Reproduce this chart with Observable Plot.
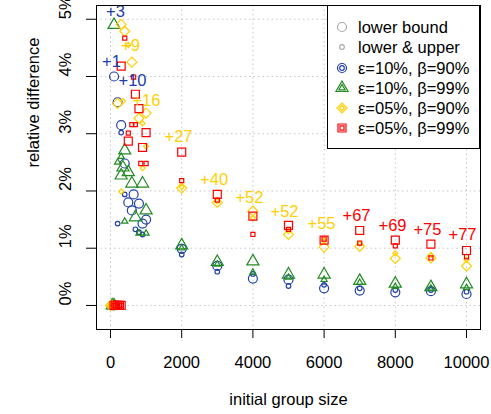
<!DOCTYPE html>
<html><head><meta charset="utf-8">
<script src="https://cdn.jsdelivr.net/npm/d3@7"></script>
<script src="https://cdn.jsdelivr.net/npm/@observablehq/plot@0.6"></script>
<style>
body{margin:0;background:#fff;font-family:"Liberation Sans",Arial,sans-serif;}
#wrap{position:relative;width:491px;height:414px;}
#legend{position:absolute;left:327px;top:5px;width:153px;height:144px;border:1px solid #000;background:#fff;box-sizing:border-box;font-size:16.5px;color:#000;}
.row{position:absolute;left:0;height:20px;display:flex;align-items:center;white-space:nowrap;}
.row svg{margin-left:6px;margin-right:8px;}
</style></head><body><div id="wrap"></div>
<script>
// ---- data ----
const xTicks = [0, 2000, 4000, 6000, 8000, 10000];
const yTicks = [0, 1, 2, 3, 4, 5];
const bigSizes = [2000, 3000, 4000, 5000, 6000, 7000, 8000, 9000, 10000];

// series: blue = e10 b90, green = e10 b99, gold = e05 b90, red = e05 b99
// "lower bound" (large symbols)
const blueLowerBig  = [0.99, 0.69, 0.47, 0.45, 0.30, 0.26, 0.23, 0.25, 0.20];
const greenLowerBig = [1.05, 0.76, 0.77, 0.54, 0.54, 0.43, 0.38, 0.32, 0.37];
const goldLowerBig  = [2.05, 1.80, 1.65, 1.24, 1.02, 1.03, 0.82, 0.83, 0.69];
const redLowerBig   = [2.68, 1.94, 1.56, 1.40, 1.14, 1.31, 1.14, 1.07, 0.96];
// "lower & upper" (small symbols)
const blueBothBig   = [0.89, 0.59, 0.55, 0.34, 0.36, 0.30, 0.27, 0.27, 0.24];
const greenBothBig  = [1.00, 0.72, 0.58, 0.49, 0.45, 0.40, 0.33, 0.30, 0.31];
const goldBothBig   = [2.07, 1.82, 1.53, 1.30, 1.13, 1.08, 0.91, 0.88, 0.80];
const redBothBig    = [2.18, 1.84, 1.24, 1.33, 1.16, 1.09, 1.04, 0.83, 0.85];

// small group sizes: [size, relative difference %]
const blueLowerSmall  = [[100,0],[100,4.00],[200,3.55],[300,3.15],[400,2.48],[500,1.80],[600,1.66],[650,1.94],[800,1.78],[900,1.43],[1000,1.50]];
const blueBothSmall   = [[100,0],[300,3.02],[400,1.94],[200,1.43],[700,1.33],[800,1.28],[900,1.24]];
const greenLowerSmall = [[50,0],[100,0],[100,4.90],[400,2.71],[350,2.41],[500,2.33],[300,2.27],[600,2.13],[900,2.13],[1000,1.66],[700,1.54]];
const greenBothSmall  = [[50,0],[100,0],[200,2.50],[300,2.60],[400,1.47],[800,1.26],[1000,1.26]];
const goldLowerSmall  = [[0,0],[50,0],[300,4.91],[400,4.79],[600,4.25],[200,3.53],[1000,3.36],[800,3.27]];
const goldBothSmall   = [[0,0],[50,0],[500,4.55],[350,3.57],[900,3.18],[1000,2.78],[900,2.40],[300,1.99]];
const redLowerSmall   = [[100,0],[150,0],[200,0],[250,0],[300,0],[300,4.18],[700,3.69],[800,3.44],[1000,3.02],[500,2.87],[900,2.76]];
const redBothSmall    = [[100,0],[150,0],[200,0],[250,0],[300,0],[400,4.67],[650,3.99],[600,3.16],[700,3.16],[500,3.01],[850,2.48],[1000,2.48]];

// annotations
const noteText  = ["+3","+1","+10","+9","+16","+27","+40","+52","+52","+55","+67","+69","+75","+77"];
const noteX     = [140, 28, 618, 562, 1011, 1910, 2910, 3904, 4888, 5927, 6910, 7921, 8904, 9888];
const noteY     = [5.14, 4.25, 3.93, 4.53, 3.57, 2.95, 2.19, 1.89, 1.64, 1.42, 1.56, 1.40, 1.33, 1.24];
const noteColor = ["blue","blue","blue","gold","gold","gold","gold","gold","gold","gold","red","red","red","red"];

const colors = {blue:"#2140a8", green:"#228b22", gold:"#ffd000", red:"#ff0000"};
const symbols = {blue:"circle", green:"triangle", gold:"diamond2", red:"square"};
const legendLabels = ["ε=10%, β=90%","ε=10%, β=99%","ε=05%, β=90%","ε=05%, β=99%"];

// ---- build rows ----
function rows(series, big, small, kind) {
  return bigSizes.map((s, i) => ({x: s, y: big[i], series, kind}))
    .concat(small.map(([s, v]) => ({x: s, y: v, series, kind})));
}
const data = [
  ...rows("blue", blueLowerBig, blueLowerSmall, "lower"),
  ...rows("blue", blueBothBig, blueBothSmall, "both"),
  ...rows("green", greenLowerBig, greenLowerSmall, "lower"),
  ...rows("green", greenBothBig, greenBothSmall, "both"),
  ...rows("gold", goldLowerBig, goldLowerSmall, "lower"),
  ...rows("gold", goldBothBig, goldBothSmall, "both"),
  ...rows("red", redLowerBig, redLowerSmall, "lower"),
  ...rows("red", redBothBig, redBothSmall, "both")
];
const notes = noteText.map((t, i) => ({text: t, x: noteX[i], y: noteY[i], c: colors[noteColor[i]]}));

const R_BIG = 4.5, R_SMALL = 2.3;
const dotMarks = [];
for (const s of ["blue","green","gold","red"]) {
  for (const k of ["lower","both"]) {
    dotMarks.push(Plot.dot(data.filter(d => d.series === s && d.kind === k), {
      x: "x", y: "y", symbol: () => symbols[s], r: k === "lower" ? R_BIG : R_SMALL,
      stroke: colors[s], fill: "none", strokeWidth: 1.2
    }));
  }
}

const chart = Plot.plot({
  width: 491, height: 414,
  marginLeft: 96, marginRight: 11, marginTop: 5, marginBottom: 85,
  style: {fontFamily: "'Liberation Sans', Arial, sans-serif", fontSize: "16.5px", background: "#fff", color: "#000", overflow: "visible"},
  x: {domain: [-393, 10393]},
  y: {domain: [-0.42, 5.24]},
  symbol: {type: "identity"},
  marks: [
    Plot.gridX(xTicks, {stroke: "#c8c8c8", strokeOpacity: 1, strokeDasharray: "1.5,3"}),
    Plot.gridY(yTicks, {stroke: "#c8c8c8", strokeOpacity: 1, strokeDasharray: "1.5,3"}),
    Plot.axisX(xTicks, {tickSize: 9, tickPadding: 18, label: null, fontSize: 16.5, tickFormat: d => String(d)}),
    Plot.axisY(yTicks, {tickSize: 10, tickFormat: () => "", label: null}),
    Plot.text(yTicks, {y: d => d, frameAnchor: "left", dx: -31, rotate: -90, text: d => d + "%", fontSize: 16.5}),
    Plot.text(["relative difference"], {frameAnchor: "left", dx: -63, rotate: -90, text: d => d, fontSize: 16.5}),
    Plot.text(["initial group size"], {frameAnchor: "bottom", dy: 75, text: d => d, fontSize: 16.5}),
    ...dotMarks,
    Plot.text(notes, {x: "x", y: "y", text: "text", fill: "c", fontSize: 16.5}),
    Plot.frame({stroke: "#000", strokeWidth: 1})
  ]
});
const wrap = document.getElementById("wrap");
wrap.appendChild(chart);

// ---- legend (overlay in the plot's top-right corner) ----
const leg = document.createElement("div");
leg.id = "legend";
function symPath(type, r) {
  const map = {circle: d3.symbolCircle, triangle: d3.symbolTriangle, diamond2: d3.symbolDiamond2, square: d3.symbolSquare};
  return d3.symbol(map[type], Math.PI * r * r)();
}
const legendItems = [
  {label: "lower bound", color: "#aaaaaa", sym: "circle", big: true, small: false},
  {label: "lower & upper", color: "#aaaaaa", sym: "circle", big: false, small: true},
  ...["blue","green","gold","red"].map((s, i) => ({label: legendLabels[i], color: colors[s], sym: symbols[s], big: true, small: true}))
];
const centers = [27, 47, 68, 88, 108, 128];
legendItems.forEach((it, i) => {
  const row = document.createElement("div");
  row.className = "row";
  row.style.top = (centers[i] - 6 - 10) + "px";
  let paths = "";
  if (it.big) paths += `<path d="${symPath(it.sym, R_BIG)}" fill="none" stroke="${it.color}" stroke-width="1.2"/>`;
  if (it.small) paths += `<path d="${symPath(it.sym, R_SMALL)}" fill="none" stroke="${it.color}" stroke-width="1.2"/>`;
  row.innerHTML = `<svg width="16" height="16" viewBox="-8 -8 16 16">${paths}</svg><span>${it.label}</span>`;
  leg.appendChild(row);
});
wrap.appendChild(leg);
</script>
</body></html>
